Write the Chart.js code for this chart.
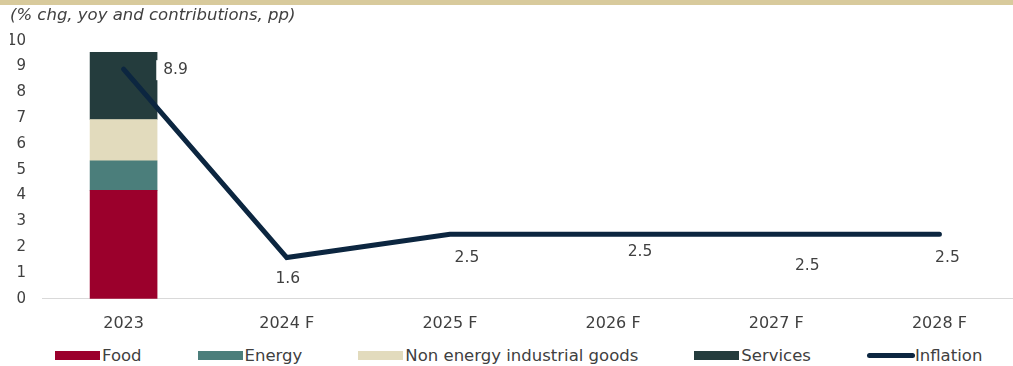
<!DOCTYPE html>
<html>
<head>
<meta charset="utf-8">
<script src="https://cdn.jsdelivr.net/npm/chart.js@4.4.1/dist/chart.umd.min.js"></script>
<style>
  html, body { margin: 0; padding: 0; background: #fff; overflow: hidden; }
  #wrap { position: relative; width: 1030px; height: 348px; }
  #legend {
    display: flex; align-items: center; height: 22px; width: 1100px; margin-top: -4px;
    padding-left: 55px; font-family: 'DejaVu Sans', Verdana, sans-serif;
    font-size: 16.5px; color: #404040; white-space: nowrap;
  }
  #legend .item { display: flex; align-items: center; margin-right: 56px; flex-shrink: 0; }
  #legend .box { width: 45px; height: 9px; margin-right: 2px; flex-shrink: 0; }
  #legend .line { width: 48px; height: 5px; border-radius: 3px; margin-right: 0; }
</style>
</head>
<body>
<div id="wrap"><canvas id="hicp_chart"></canvas></div>
<div id="legend"></div>

<script>
// HICP inflation and component contributions

var years = ['2023', '2024 F', '2025 F', '2026 F', '2027 F', '2028 F'];

var food = [4.2, null, null, null, null, null];
var energy = [1.15, null, null, null, null, null];
var non_energy_goods = [1.6, null, null, null, null, null];
var services = [2.6, null, null, null, null, null];
var inflation = [8.9, 1.6, 2.5, 2.5, 2.5, 2.5];

var series_names = ['Food', 'Energy', 'Non energy industrial goods', 'Services', 'Inflation'];
var colors = ['#9b002c', '#4b7e7b', '#e2dbbd', '#243c3d', '#0c2640'];

Chart.defaults.font.family = "'DejaVu Sans', Verdana, sans-serif";
Chart.defaults.font.size = 15;
Chart.defaults.color = '#404040';

// beige strip along the top edge
var topStrip = {
    id: 'topStrip',
    beforeDraw: function(chart) {
        var c = chart.ctx;
        c.save();
        c.fillStyle = '#d8ca9c';
        c.fillRect(0, 0, chart.width, 5);
        c.restore();
    }
};

// value labels for the inflation line, nudged off the line
var lineLabels = {
    id: 'lineLabels',
    afterDatasetsDraw: function(chart, args, opts) {
        var meta = chart.getDatasetMeta(0);
        var c = chart.ctx;
        c.save();
        c.font = '15.5px ' + Chart.defaults.font.family;
        c.textAlign = 'center';
        c.textBaseline = 'middle';
        meta.data.forEach(function(pt, i) {
            var txt = inflation[i].toFixed(1);
            var x = pt.x + opts.dx[i];
            var y = pt.y + opts.dy[i];
            var w = c.measureText(txt).width;
            c.fillStyle = '#ffffff';
            c.fillRect(x - w / 2 - 7, y - 10, w + 14, 20);
            c.fillStyle = '#404040';
            c.fillText(txt, x, y);
        });
        c.restore();
    }
};

var barSets = [food, energy, non_energy_goods, services].map(function(vals, i) {
    return {
        type: 'bar',
        label: series_names[i],
        data: vals,
        backgroundColor: colors[i],
        borderWidth: 0,
        barThickness: 67,
        stack: 'contrib',
        order: 1,
    };
});

var ctx = document.getElementById('hicp_chart').getContext('2d');

var hicp_chart = new Chart(ctx, {
    data: {
        labels: years,
        datasets: [{
            type: 'line',
            label: series_names[4],
            data: inflation,
            borderColor: colors[4],
            backgroundColor: colors[4],
            borderWidth: 5,
            borderCapStyle: 'round',
            pointRadius: 0,
            tension: 0,
            order: 0,
        }].concat(barSets),
    },

    options: {
        responsive: true,
        maintainAspectRatio: false,
        animation: false,
        layout: { padding: { left: 10, right: 9, top: 0, bottom: 0 } },

        scales: {
            x: {
                stacked: true,
                grid: { display: false, drawTicks: false },
                border: { color: '#d9d9d9', width: 1 },
                ticks: { padding: 15, font: { size: 16 } },
            },
            y: {
                stacked: true,
                min: 0,
                max: 10,
                grid: { display: false, drawTicks: false },
                border: { display: false },
                ticks: { stepSize: 1, padding: 16 },
                afterFit: function(scale) { scale.width = 32; },
            },
        },

        plugins: {
            legend: { display: false },
            tooltip: { enabled: false },
            title: {
                display: true,
                align: 'start',
                text: '(% chg, yoy and contributions, pp)',
                font: { size: 16.5, style: 'italic', weight: 'normal' },
                color: '#404040',
                padding: { top: 6, bottom: 15 },
            },
            lineLabels: {
                dx: [52, 1, 17, 27, 31, 8],
                dy: [1, 21, 24, 18, 32, 24],
            },
        },
    },
    plugins: [topStrip, lineLabels],
});

// legend row under the chart
var legend = document.getElementById('legend');
series_names.forEach(function(name, i) {
    var item = document.createElement('div');
    item.className = 'item';
    var mark = document.createElement('div');
    mark.className = i == 4 ? 'box line' : 'box';
    mark.style.background = colors[i];
    var label = document.createElement('span');
    label.textContent = name;
    item.appendChild(mark);
    item.appendChild(label);
    legend.appendChild(item);
});
</script>
</body>
</html>
